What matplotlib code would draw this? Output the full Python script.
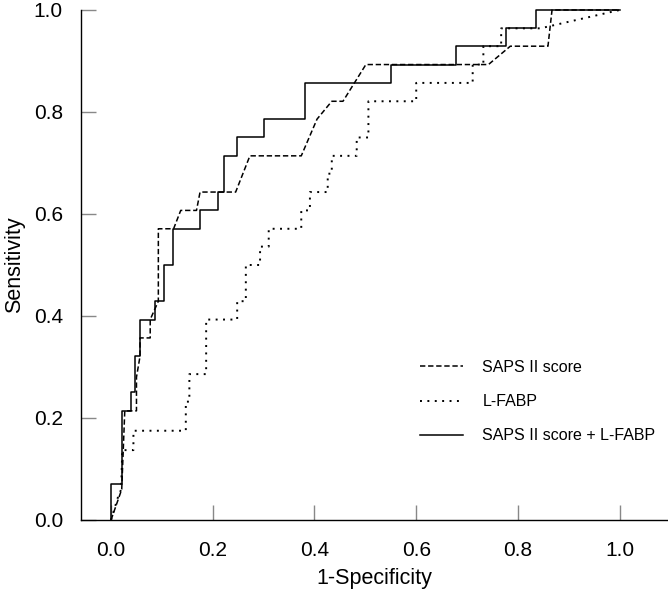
import matplotlib
matplotlib.use("Agg")
import matplotlib.pyplot as plt

plt.rcParams['font.family'] = ['Liberation Sans Narrow', 'Liberation Sans', 'DejaVu Sans']

# ROC curve vertices (x = 1-specificity, y = sensitivity)
saps_x = [0, 0.021, 0.027, 0.05, 0.05, 0.057, 0.057, 0.077, 0.077, 0.093, 0.093,
          0.123, 0.137, 0.168, 0.175, 0.245, 0.273, 0.374, 0.405, 0.434, 0.456,
          0.501, 0.742, 0.785, 0.859, 0.867, 1.0]
saps_y = [0, 0.06, 0.214, 0.214, 0.28, 0.321, 0.357, 0.357, 0.393, 0.429, 0.571,
          0.571, 0.607, 0.607, 0.643, 0.643, 0.714, 0.714, 0.786, 0.821, 0.821,
          0.893, 0.893, 0.929, 0.929, 1.0, 1.0]

fabp_x = [0, 0.014, 0.02, 0.022, 0.044, 0.044, 0.147, 0.147, 0.154, 0.154, 0.187,
          0.187, 0.248, 0.248, 0.265, 0.265, 0.293, 0.293, 0.310, 0.310, 0.374,
          0.374, 0.391, 0.391, 0.426, 0.426, 0.434, 0.434, 0.483, 0.483, 0.506,
          0.506, 0.60, 0.60, 0.711, 0.711, 0.732, 0.732, 0.767, 0.767, 0.844, 1.0]
fabp_y = [0, 0.046, 0.06, 0.137, 0.137, 0.175, 0.175, 0.232, 0.232, 0.286, 0.286,
          0.393, 0.393, 0.429, 0.429, 0.5, 0.5, 0.536, 0.536, 0.571, 0.571,
          0.607, 0.607, 0.643, 0.643, 0.679, 0.679, 0.714, 0.714, 0.75, 0.75,
          0.821, 0.821, 0.857, 0.857, 0.893, 0.893, 0.929, 0.929, 0.964, 0.964, 1.0]

comb_x = [0, 0, 0.022, 0.039, 0.047, 0.057, 0.087, 0.104, 0.121, 0.175, 0.211,
          0.223, 0.247, 0.30, 0.382, 0.551, 0.678, 0.777, 0.835, 1.0]
comb_y = [0, 0.071, 0.214, 0.25, 0.321, 0.393, 0.429, 0.5, 0.571, 0.607, 0.643,
          0.714, 0.75, 0.786, 0.857, 0.893, 0.929, 0.964, 1.0, 1.0]

labels = ['SAPS II score', 'L-FABP', 'SAPS II score + L-FABP']
ticks = [0.0, 0.2, 0.4, 0.6, 0.8, 1.0]

fig = plt.figure(figsize=(6.68, 5.94), dpi=100)
ax = fig.add_axes([0.1213, 0.1246, 0.8787, 0.8586])

ax.plot(saps_x, saps_y, color='black', lw=1.1, linestyle=(0, (3.5, 1.8)),
        label=labels[0], clip_on=False)
ax.plot(fabp_x, fabp_y, color='black', lw=1.4, linestyle=(0, (1, 2.8)),
        label=labels[1], clip_on=False)
ax.step(comb_x, comb_y, where='post', color='black', lw=1.1,
        label=labels[2], clip_on=False)

ax.set_xlim(-0.059, 1.095)
ax.set_ylim(0, 1.0)
ax.set_xticks(ticks)
ax.set_yticks(ticks)
ax.set_xticklabels(['%.1f' % t for t in ticks])
ax.set_yticklabels(['%.1f' % t for t in ticks])

for s in ['top', 'right']:
    ax.spines[s].set_visible(False)
ax.spines['left'].set_linewidth(1.0)
ax.spines['bottom'].set_linewidth(1.0)

ax.tick_params(direction='in', length=11, width=1.0, color='#888888',
               labelsize=15, pad=13)
ax.tick_params(axis='x', pad=15)

ax.set_xlabel('1-Specificity', fontsize=15.5, labelpad=6)
ax.set_ylabel('Sensitivity', fontsize=15.5, labelpad=6)

ax.legend(loc='upper left', bbox_to_anchor=(0.5775, 0.3137), frameon=False,
          borderaxespad=0, borderpad=0,
          fontsize=11.5, handlelength=2.7, handletextpad=1.2, labelspacing=1.2)

fig.savefig('out.png', dpi=100)
